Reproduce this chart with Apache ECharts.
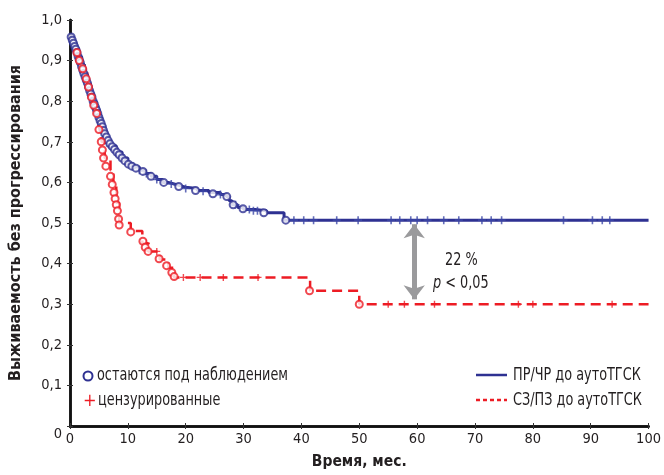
<!DOCTYPE html>
<html><head><meta charset="utf-8">
<script src="https://cdn.jsdelivr.net/npm/echarts@6/dist/echarts.min.js"></script>
<style>html,body{margin:0;padding:0;background:#fff}#c{width:664px;height:475px}</style>
</head><body><div id="c"></div>
<script>
// Kaplan–Meier curves [months, survival]
const blueKM = [[0,0.96],[0.5,0.945],[1,0.93],[1.5,0.91],[2,0.89],[2.5,0.865],[3,0.845],[3.5,0.82],[4,0.8],[4.5,0.78],[5,0.76],[5.5,0.74],[6,0.72],[6.5,0.705],[7,0.69],[8,0.675],[9,0.66],[10,0.645],[11,0.638],[12,0.63],[13,0.622],[14,0.615],[15,0.607],[16,0.6],[17,0.596],[18,0.592],[19,0.588],[20,0.585],[22,0.58],[24,0.575],[26,0.57],[27,0.565],[27.5,0.555],[28,0.545],[29,0.538],[30,0.533],[32,0.53],[34,0.525],[37,0.507],[100,0.507]];
const redKM = [[0,0.955],[0.5,0.94],[1,0.925],[1.5,0.91],[2,0.89],[2.5,0.87],[3,0.845],[3.5,0.82],[4,0.795],[4.5,0.775],[5,0.74],[5.3,0.715],[5.5,0.7],[6,0.66],[7,0.63],[7.5,0.6],[8,0.55],[8.5,0.5],[10.5,0.48],[12.5,0.45],[13.5,0.43],[15.5,0.41],[17,0.39],[18,0.366],[41.5,0.333],[50,0.30],[100,0.30]];
// patients remaining under observation (circles)
const blueCircles = [[0.2,0.958],[0.4,0.95],[0.6,0.943],[0.8,0.935],[1.0,0.928],[1.2,0.92],[1.4,0.91],[1.6,0.903],[1.8,0.895],[2.0,0.885],[2.2,0.877],[2.4,0.868],[2.6,0.86],[2.8,0.852],[3.0,0.845],[3.2,0.835],[3.4,0.826],[3.6,0.818],[3.8,0.81],[4.0,0.8],[4.2,0.793],[4.4,0.785],[4.6,0.778],[4.8,0.77],[5.0,0.76],[5.2,0.752],[5.4,0.745],[5.6,0.737],[5.8,0.728],[6.0,0.72],[6.3,0.712],[6.6,0.703],[6.9,0.695],[7.3,0.688],[7.7,0.681],[8.1,0.674],[8.5,0.668],[9.0,0.66],[9.5,0.653],[10.1,0.645],[10.7,0.64],[11.4,0.635],[12.6,0.627],[14.0,0.615],[16.2,0.6],[18.8,0.59],[21.7,0.58],[24.7,0.572],[27.1,0.565],[28.2,0.545],[29.9,0.535],[33.5,0.525],[37.3,0.507]];
const redCircles = [[1.2,0.92],[1.6,0.9],[2.2,0.88],[2.8,0.855],[3.2,0.835],[3.7,0.81],[4.1,0.79],[4.6,0.77],[5.0,0.73],[5.4,0.70],[5.6,0.68],[5.8,0.66],[6.2,0.64],[7.0,0.615],[7.3,0.595],[7.6,0.575],[7.8,0.56],[8.0,0.545],[8.2,0.53],[8.4,0.51],[8.5,0.495],[10.5,0.478],[12.6,0.455],[13.0,0.44],[13.5,0.43],[15.4,0.412],[16.7,0.395],[17.6,0.378],[18,0.368],[41.4,0.333],[50,0.30]];
// censored (crosses)
const blueCrosses = [[0.5,0.945],[1.0,0.93],[1.7,0.9],[2.3,0.87],[3.1,0.84],[3.7,0.815],[4.4,0.785],[4.9,0.765],[5.4,0.74],[5.9,0.725],[6.2,0.715],[6.7,0.7],[7.0,0.69],[7.5,0.685],[8.0,0.675],[8.7,0.665],[9.3,0.66],[10.0,0.648],[10.8,0.64],[12.0,0.63],[13.2,0.622],[15.0,0.607],[17.5,0.596],[20.0,0.585],[23.0,0.578],[26.0,0.57],[28.6,0.545],[31.0,0.533],[31.7,0.53],[32.4,0.53],[38.7,0.507],[40.4,0.507],[42.1,0.507],[46.1,0.507],[49.8,0.507],[55.5,0.507],[57,0.507],[58.9,0.507],[60,0.507],[61.8,0.507],[64.6,0.507],[67.2,0.507],[71.2,0.507],[72.8,0.507],[74.6,0.507],[85.3,0.507],[90.3,0.507],[92,0.507],[93.3,0.507]];
const redCrosses = [[13.2,0.45],[15.0,0.43],[19.6,0.366],[22.5,0.366],[26.5,0.366],[32.5,0.366],[55,0.30],[57.8,0.30],[63,0.30],[77.5,0.30],[80,0.30],[93.7,0.30]];
const arrowSpan = [[59.5,0.497],[59.5,0.312]];
const xTicks = [0,10,20,30,40,50,60,70,80,90,100];
const yTicks = ['0','0,1','0,2','0,3','0,4','0,5','0,6','0,7','0,8','0,9','1,0'];

const FONT = '"Liberation Sans Narrow","DejaVu Sans Condensed","Noto Sans",sans-serif';
const BLUE = '#2e3192', RED = '#ed1c24', TXT = '#231f20';
const plus = 'path://M4,0h2v10h-2z M0,4h10v2h-10z';
const SX = 0.84;

const chart = echarts.init(document.getElementById('c'), null, {renderer:'canvas'});
const axisLine = {show:true, lineStyle:{color:'#111', width:2.5}};
function txt(x, y, s, extra){ return Object.assign({type:'text', x:x, y:y, scaleX:SX, style:{text:s, font:'17px '+FONT, fill:TXT, textVerticalAlign:'middle'}}, extra||{}); }
chart.setOption({
  animation:false,
  textStyle:{fontFamily:FONT},
  grid:{left:68, right:10, top:20, bottom:48},
  xAxis:[{type:'value', min:0, max:100, interval:10, axisLine, splitLine:{show:false},
     axisTick:{inside:true, length:3, lineStyle:{color:'#333'}},
     axisLabel:{fontFamily:FONT, fontSize:14.5, color:TXT, margin:6, formatter:v=>String(xTicks[Math.round(v/10)])},
     name:'Время, мес.', nameLocation:'middle', nameGap:28, nameTextStyle:{fontFamily:FONT, fontWeight:'bold', fontSize:15.5, color:TXT}},
   {type:'value', position:'top', min:0, max:100, interval:10, axisLine, splitLine:{show:false},
     axisTick:{inside:true, length:3, lineStyle:{color:'#333'}}, axisLabel:{show:false}}],
  yAxis:[{type:'value', min:0, max:1, interval:0.1, axisLine, splitLine:{show:false},
     axisTick:{inside:true, length:3, lineStyle:{color:'#333'}},
     axisLabel:{fontFamily:FONT, fontSize:14.5, color:TXT, margin:8,
       formatter:v=>{const i=Math.round(v*10); return i===0 ? '{z|'+yTicks[0]+'}' : yTicks[i];},
       rich:{z:{fontFamily:FONT, fontSize:14.5, color:TXT, padding:[16,0,0,0]}}},
     name:'Выживаемость без прогрессирования', nameLocation:'middle', nameGap:46, nameTextStyle:{fontFamily:FONT, fontWeight:'bold', fontSize:16, color:TXT}},
   {type:'value', position:'right', min:0, max:1, interval:0.1, axisLine, splitLine:{show:false},
     axisTick:{inside:true, length:3, lineStyle:{color:'#333'}}, axisLabel:{show:false}}],
  series:[
    {type:'line', step:'end', data:redKM, showSymbol:false, lineStyle:{color:RED, width:2.5, type:[10,6]}, z:3,
     markLine:{silent:true, symbol:['arrow','arrow'], symbolSize:[16,14], label:{show:false},
       lineStyle:{color:'#9a9a9c', width:5, type:'solid'}, data:[[{coord:arrowSpan[0]},{coord:arrowSpan[1]}]]}},
    {type:'line', step:'end', data:blueKM, showSymbol:false, lineStyle:{color:BLUE, width:3}, z:4},
    {type:'scatter', data:blueCrosses, symbol:plus, symbolSize:8, itemStyle:{color:'#3d48a8', opacity:0.8}, z:5},
    {type:'scatter', data:blueCircles, symbol:'circle', symbolSize:7, itemStyle:{color:'#fff', borderColor:BLUE, borderWidth:2}, z:6},
    {type:'scatter', data:redCrosses, symbol:plus, symbolSize:7, itemStyle:{color:RED, opacity:0.8}, z:5},
    {type:'scatter', data:redCircles, symbol:'circle', symbolSize:7, itemStyle:{color:'#fff', borderColor:RED, borderWidth:2}, z:7}
  ],
  graphic:[
    {type:'circle', shape:{cx:88, cy:376, r:4.5}, style:{fill:'#fff', stroke:BLUE, lineWidth:2}},
    txt(97, 376, 'остаются под наблюдением'),
    {type:'text', x:83, y:401, style:{text:'+', font:'18px '+FONT, fill:RED, textVerticalAlign:'middle'}},
    txt(98, 401, 'цензурированные'),
    {type:'line', shape:{x1:476, y1:375, x2:507, y2:375}, style:{stroke:BLUE, lineWidth:2.5}},
    txt(513, 376, 'ПР/ЧР до аутоТГСК'),
    {type:'line', shape:{x1:476, y1:400, x2:507, y2:400}, style:{stroke:RED, lineWidth:2.5, lineDash:[4,3]}},
    txt(513, 401, 'СЗ/ПЗ до аутоТГСК'),
    txt(445, 261, '22 %'),
    {type:'text', x:433, y:284, scaleX:SX, style:{rich:{i:{fontStyle:'italic', fontSize:17, fontFamily:FONT, fill:TXT}, n:{fontSize:17, fontFamily:FONT, fill:TXT}}, text:'{i|p}{n| < 0,05}', textVerticalAlign:'middle'}}
  ]
});
</script></body></html>
